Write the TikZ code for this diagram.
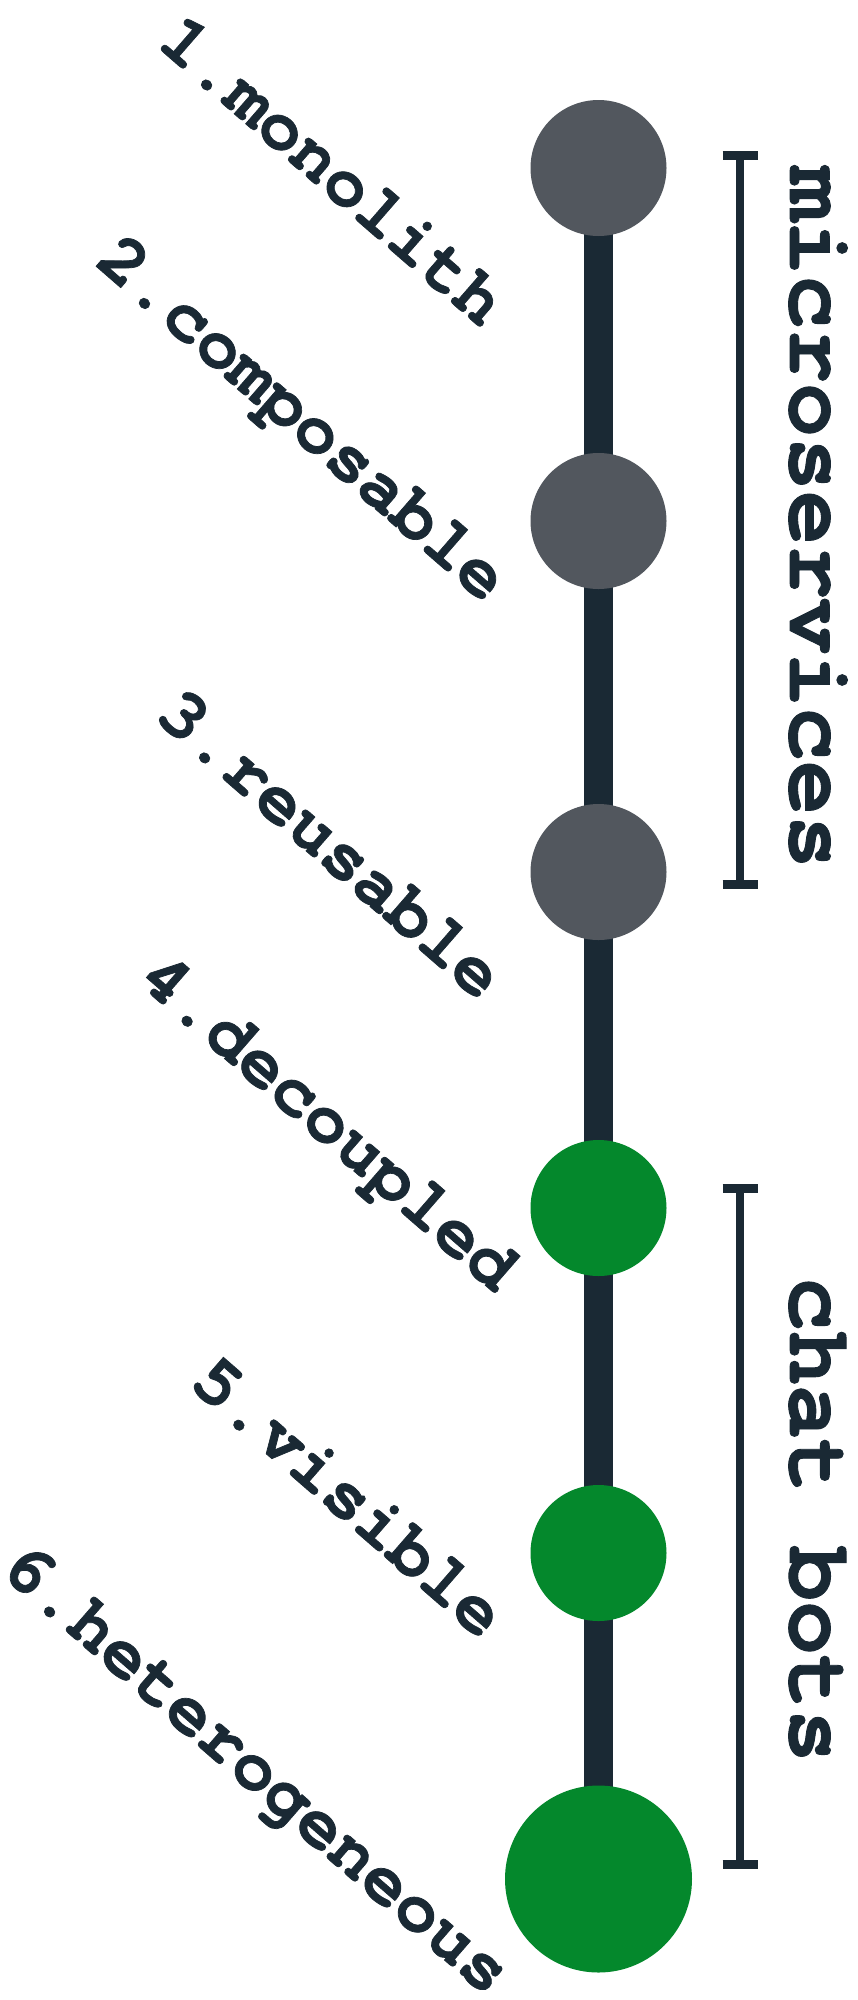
\documentclass[tikz,border=0pt]{standalone}
\usepackage{xcolor}
\usepackage{fontspec}
\usepackage{tikz}
\usetikzlibrary{positioning,backgrounds}
\newfontfamily\cursorfont[FakeBold=1]{TeX Gyre Cursor}

\definecolor{inkc}{HTML}{1A2934}
\definecolor{stonec}{HTML}{52575E}
\definecolor{leafc}{HTML}{04882C}

\tikzset{
	stage/.style={circle,inner sep=0pt,minimum size=136pt},
	spine/.style={inkc,line width=29pt},
	bracket/.style={inkc,line width=8pt},
	bartick/.style={inkc,line width=9pt},
	steplabel/.style={inkc,rotate=-41,inner sep=0pt,font=\cursorfont\bfseries\fontsize{72}{72}\selectfont},
	grouplabel/.style={inkc,rotate=-90,anchor=base,inner sep=0pt,font=\cursorfont\bfseries\fontsize{90}{90}\selectfont}
}

\begin{document}
\begin{tikzpicture}[x=1pt,y=-1pt]
	\useasboundingbox (0,0) rectangle (858,2000);
	% stages on the timeline
	\node[stage,fill=stonec] (s1) at (598.5,168) {};
	\node[stage,fill=stonec] (s2) at (598.5,521) {};
	\node[stage,fill=stonec] (s3) at (598.5,872) {};
	\node[stage,fill=leafc] (s4) at (598.5,1208) {};
	\node[stage,fill=leafc] (s5) at (598.5,1553) {};
	\node[stage,fill=leafc,minimum size=187pt] (s6) at (598.5,1879) {};
	\begin{scope}[on background layer]
		\draw[spine] (s1.center) -- (s6.center);
	\end{scope}
	% labels
	\node[steplabel] (l1) at (333,170) {1.monolith};
	\node[steplabel] (l2) at (299,422) {2.composable};
	\node[steplabel] (l3) at (331,843) {3.reusable};
	\node[steplabel] (l4) at (325,1126) {4.decoupled};
	\node[steplabel] (l5) at (349,1496) {5.visible};
	\node[steplabel] (l6) at (253,1773) {6.heterogeneous};
	% groups
	\coordinate (m1) at (740,155.5);
	\coordinate (m2) at (740,884.5);
	\coordinate (c1) at (740,1188.5);
	\coordinate (c2) at (740,1864);
	\draw[bracket] (m1) -- (m2);
	\draw[bracket] (c1) -- (c2);
	\foreach \p in {m1,m2,c1,c2}
		\draw[bartick] ([xshift=-17.5pt]\p) -- ([xshift=17.5pt]\p);
	\node[grouplabel] (g1) at (790,518) {microservices};
	\node[grouplabel] (g2) at (790,1520) {chat bots};
\end{tikzpicture}
\end{document}
